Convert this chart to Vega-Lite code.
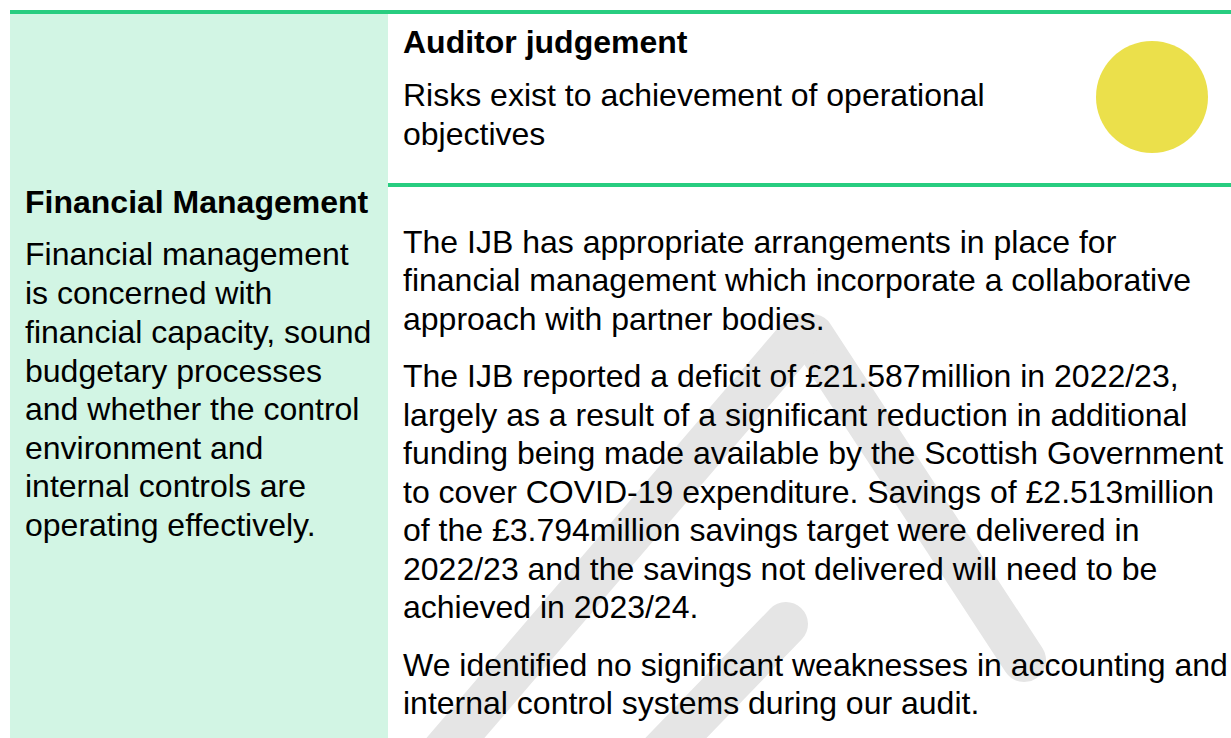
{
  "$schema": "https://vega.github.io/schema/vega-lite/v6.json",
  "width": 1231,
  "height": 738,
  "padding": 0,
  "autosize": {"type": "none"},
  "background": "white",
  "config": {"view": {"stroke": null}, "axis": {"disable": true}},
  "datasets": {
    "panel": [{"part": "left cell", "x": 10, "x2": 388, "y": 14, "y2": 738}],
    "borders": [
      {"part": "top border", "x": 10, "x2": 1231, "y": 12},
      {"part": "row border", "x": 388, "x2": 1231, "y": 185}
    ],
    "watermark": [
      {"stroke": "right leg", "x": 812, "y": 336, "x2": 1024, "y2": 660},
      {"stroke": "left leg", "x": 800, "y": 336, "x2": 428, "y2": 770},
      {"stroke": "inner", "x": 786, "y": 624, "x2": 645, "y2": 770}
    ],
    "rating": [{"judgement": "Risks exist to achievement of operational objectives", "x": 1152, "y": 97, "rag": "amber"}],
    "texts": [
      {"kind": "heading", "x": 403, "y": 43, "text": "Auditor judgement"},
      {"kind": "body", "x": 403, "y": 96, "text": "Risks exist to achievement of operational"},
      {"kind": "body", "x": 403, "y": 135, "text": "objectives"},
      {"kind": "heading", "x": 25, "y": 203, "text": "Financial Management"},
      {"kind": "body", "x": 25, "y": 255, "text": "Financial management"},
      {"kind": "body", "x": 25, "y": 294, "text": "is concerned with"},
      {"kind": "body", "x": 25, "y": 333, "text": "financial capacity, sound"},
      {"kind": "body", "x": 25, "y": 372, "text": "budgetary processes"},
      {"kind": "body", "x": 25, "y": 410, "text": "and whether the control"},
      {"kind": "body", "x": 25, "y": 449, "text": "environment and"},
      {"kind": "body", "x": 25, "y": 487, "text": "internal controls are"},
      {"kind": "body", "x": 25, "y": 526, "text": "operating effectively."},
      {"kind": "body", "x": 403, "y": 243, "text": "The IJB has appropriate arrangements in place for"},
      {"kind": "body", "x": 403, "y": 281, "text": "financial management which incorporate a collaborative"},
      {"kind": "body", "x": 403, "y": 320, "text": "approach with partner bodies."},
      {"kind": "body", "x": 403, "y": 377, "text": "The IJB reported a deficit of £21.587million in 2022/23,"},
      {"kind": "body", "x": 403, "y": 416, "text": "largely as a result of a significant reduction in additional"},
      {"kind": "body", "x": 403, "y": 454, "text": "funding being made available by the Scottish Government"},
      {"kind": "body", "x": 403, "y": 493, "text": "to cover COVID-19 expenditure. Savings of £2.513million"},
      {"kind": "body", "x": 403, "y": 531, "text": "of the £3.794million savings target were delivered in"},
      {"kind": "body", "x": 403, "y": 570, "text": "2022/23 and the savings not delivered will need to be"},
      {"kind": "body", "x": 403, "y": 608, "text": "achieved in 2023/24."},
      {"kind": "body", "x": 403, "y": 666, "text": "We identified no significant weaknesses in accounting and"},
      {"kind": "body", "x": 403, "y": 704, "text": "internal control systems during our audit."}
    ]
  },
  "encoding": {
    "x": {"field": "x", "type": "quantitative", "scale": {"domain": [0, 1231], "nice": false, "zero": false}, "axis": null},
    "y": {"field": "y", "type": "quantitative", "scale": {"domain": [0, 738], "nice": false, "zero": false, "reverse": true}, "axis": null}
  },
  "layer": [
    {
      "data": {"name": "panel"},
      "mark": {"type": "rect", "color": "#d2f5e4"},
      "encoding": {"x2": {"field": "x2"}, "y2": {"field": "y2"}}
    },
    {
      "data": {"name": "watermark"},
      "mark": {"type": "rule", "color": "#e5e5e5", "strokeWidth": 44, "strokeCap": "round"},
      "encoding": {"x2": {"field": "x2"}, "y2": {"field": "y2"}}
    },
    {
      "data": {"name": "borders"},
      "mark": {"type": "rule", "color": "#28cd80", "strokeWidth": 4},
      "encoding": {"x2": {"field": "x2"}}
    },
    {
      "data": {"name": "rating"},
      "mark": {"type": "point", "shape": "circle", "filled": true, "color": "#ebe04b", "opacity": 1, "size": 12544}
    },
    {
      "data": {"name": "texts"},
      "transform": [{"filter": "datum.kind === 'heading'"}],
      "mark": {"type": "text", "align": "left", "baseline": "middle", "font": "Liberation Sans", "fontSize": 32, "fontWeight": "bold", "color": "#000000"},
      "encoding": {"text": {"field": "text"}}
    },
    {
      "data": {"name": "texts"},
      "transform": [{"filter": "datum.kind === 'body'"}],
      "mark": {"type": "text", "align": "left", "baseline": "middle", "font": "Liberation Sans", "fontSize": 32, "color": "#000000"},
      "encoding": {"text": {"field": "text"}}
    }
  ]
}
